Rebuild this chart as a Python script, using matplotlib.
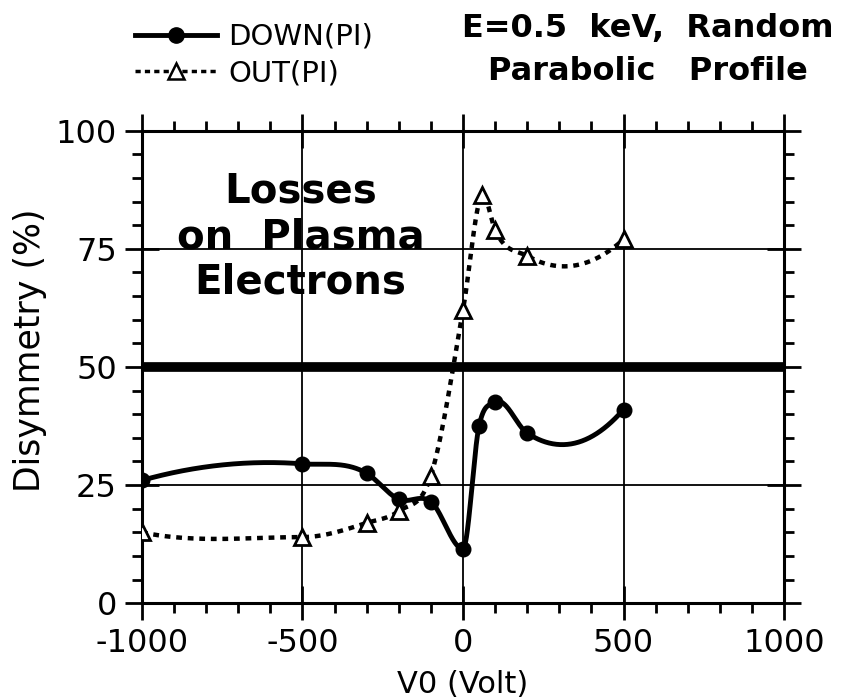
import numpy as np
import matplotlib.pyplot as plt
from matplotlib.ticker import MultipleLocator

plt.rcParams['axes.unicode_minus'] = False

# data
v0 = [-1000, -500, -300, -200, -100, 0, 50, 100, 200, 500]
down_pi = [26, 29.5, 27.5, 22, 21.5, 11.5, 37.5, 42.5, 36, 41]

v0_out = [-1000, -500, -300, -200, -100, 0, 60, 100, 200, 500]
out_pi = [15, 14, 17, 19.5, 27, 62, 86.5, 79, 73.5, 77]

reference_level = 50


def smooth_curve(x, y, per_seg=80):
    # piecewise cubic Hermite, slopes from the parabola through 3 neighbours,
    # flattened at sharp turning points to avoid overshoot
    x = np.asarray(x, float)
    y = np.asarray(y, float)
    h = np.diff(x)
    d = np.diff(y) / h
    m = np.zeros_like(x)
    m[1:-1] = (d[:-1] * h[1:] + d[1:] * h[:-1]) / (h[:-1] + h[1:])
    m[0] = d[0] + (d[0] - d[1]) * h[0] / (h[0] + h[1])
    m[-1] = d[-1] + (d[-1] - d[-2]) * h[-1] / (h[-1] + h[-2])
    for i in range(1, len(x) - 1):
        a, b = d[i - 1], d[i]
        if a * b < 0 and max(abs(a), abs(b)) > 5 * min(abs(a), abs(b)):
            m[i] = 0
    xs, ys = [], []
    for i in range(len(h)):
        s = np.linspace(0, 1, per_seg)
        h00 = 2 * s**3 - 3 * s**2 + 1
        h10 = s**3 - 2 * s**2 + s
        h01 = -2 * s**3 + 3 * s**2
        h11 = s**3 - s**2
        xs.append(x[i] + s * h[i])
        ys.append(h00 * y[i] + h10 * h[i] * m[i] + h01 * y[i + 1] + h11 * h[i] * m[i + 1])
    return np.concatenate(xs), np.concatenate(ys)


fig = plt.figure(figsize=(8.55, 6.99), dpi=100)
ax = fig.add_axes([0.166, 0.137, 0.751, 0.676])

ax.grid(True, which='major', color='black', linewidth=1.3)
ax.axhline(reference_level, color='black', linewidth=7, zorder=2)

xs, ys = smooth_curve(v0, down_pi)
ax.plot(xs, ys, color='black', linewidth=3.5, zorder=3)
ax.plot(v0, down_pi, 'o', color='black', markersize=10.5, zorder=4)

xs, ys = smooth_curve(v0_out, out_pi)
ax.plot(xs, ys, color='black', linewidth=3.2, linestyle=(0, (1.3, 1.3)), zorder=3)
ax.plot(v0_out, out_pi, '^', markerfacecolor='white', markeredgecolor='black',
        markeredgewidth=2, markersize=11, zorder=4)

ax.set_xlim(-1000, 1000)
ax.set_ylim(0, 100)
ax.xaxis.set_major_locator(MultipleLocator(500))
ax.xaxis.set_minor_locator(MultipleLocator(100))
ax.yaxis.set_major_locator(MultipleLocator(25))
ax.yaxis.set_minor_locator(MultipleLocator(5))
ax.tick_params(which='both', top=True, right=True, direction='out', width=2)
ax.tick_params(which='major', direction='inout', length=24)
ax.tick_params(which='minor', length=7)
ax.tick_params(labelsize=23, pad=6)
for s in ax.spines.values():
    s.set_linewidth(2.2)

ax.set_xlabel('V0 (Volt)', fontsize=22, labelpad=8)
ax.set_ylabel('Disymmetry (%)', fontsize=25)
ax.yaxis.set_label_coords(-0.148, 0.536)

ax.text(-506, 77.5, 'Losses\non  Plasma\nElectrons', fontsize=29, fontweight='bold',
        ha='center', va='center', linespacing=1.18, zorder=5)

# legend top-left
h1 = plt.Line2D([], [], color='black', linewidth=3.5, marker='o', markersize=11)
h2 = plt.Line2D([], [], color='black', linewidth=2.5, linestyle=(0, (1.5, 1.2)),
                marker='^', markerfacecolor='white', markeredgecolor='black',
                markeredgewidth=1.8, markersize=11)
fig.legend([h1, h2], ['DOWN(PI)', 'OUT(PI)'], loc='upper left',
           bbox_to_anchor=(0.148, 0.98), frameon=False, fontsize=21,
           handlelength=2.8, handletextpad=0.4, labelspacing=0.3,
           borderpad=0.3, borderaxespad=0)

fig.text(0.758, 0.928, 'E=0.5  keV,  Random\nParabolic   Profile', fontsize=23,
         fontweight='bold', ha='center', va='center', linespacing=1.5)

fig.savefig('out.png', dpi=100)
